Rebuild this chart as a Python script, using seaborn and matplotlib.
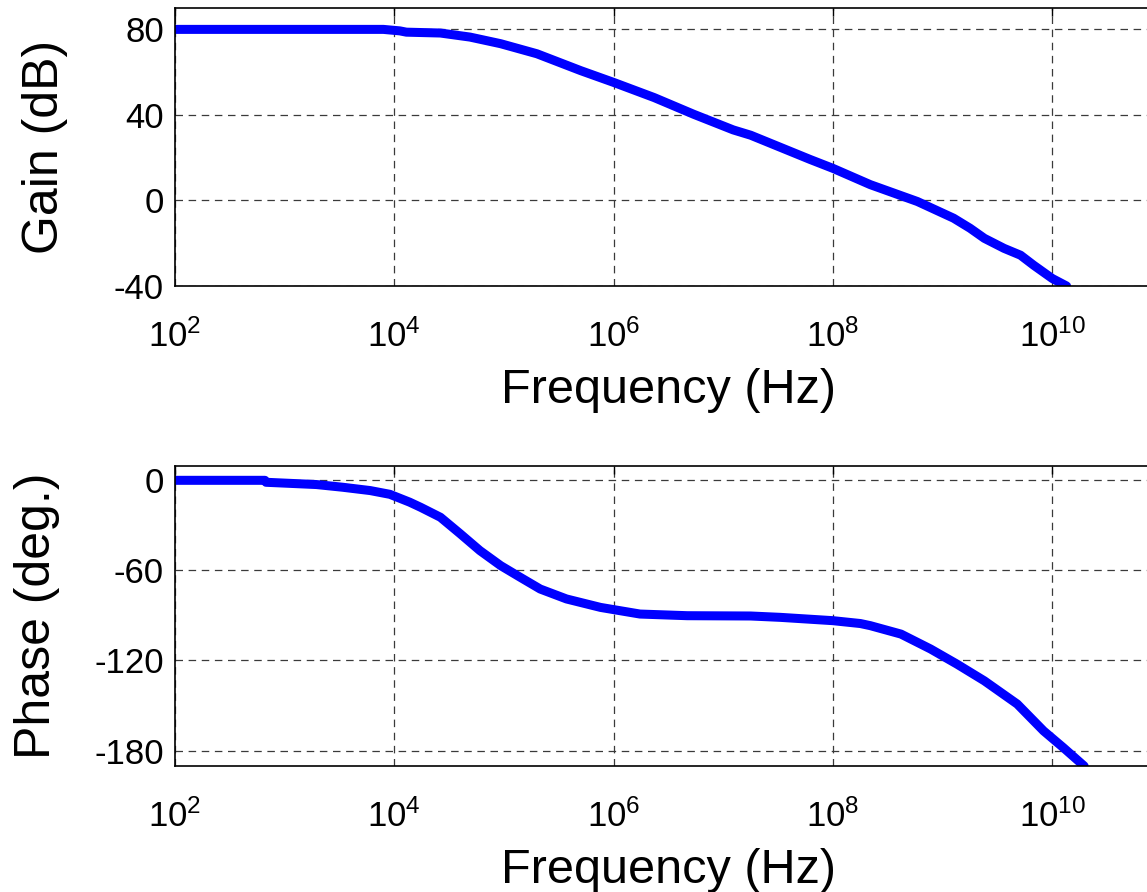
import numpy as np
import pandas as pd
import matplotlib
matplotlib.use('Agg')
import matplotlib.pyplot as plt
import seaborn as sns

# values (log10 of frequency in Hz)
log_f_gain = [2.0, 3.9, 4.05, 4.11, 4.42, 4.69, 4.97, 5.30, 5.70, 6.0, 6.37, 6.73,
              7.09, 7.25, 7.79, 8.0, 8.34, 8.77, 9.10, 9.25, 9.38, 9.56, 9.71, 9.83,
              10.0, 10.13]
gain_db = [80, 80, 79.3, 78.7, 78.3, 76.4, 73.3, 68.6, 60.7, 55.2, 48.1, 40.3,
           33.0, 30.5, 19.2, 15.0, 7.4, -0.5, -8.3, -13.0, -17.7, -22.4, -25.6, -30.3,
           -36.5, -40]

log_f_phase = [2.0, 2.82, 2.83, 3.29, 3.53, 3.78, 3.96, 4.14, 4.24, 4.42, 4.60, 4.78,
               4.97, 5.15, 5.33, 5.57, 5.88, 6.06, 6.24, 6.67, 7.25, 7.52, 8.0, 8.25,
               8.34, 8.62, 8.89, 9.13, 9.38, 9.68, 9.92, 10.10, 10.29]
phase_deg = [-0.5, -0.5, -1.8, -3.3, -5.1, -7.3, -9.8, -15, -18.4, -25, -35.9, -47.1,
             -57.1, -64.9, -72.6, -79.2, -84.8, -87, -89.2, -90.3, -90.5, -91.4, -93.6, -95.5,
             -96.9, -102.5, -112.4, -122.4, -133.5, -148.9, -166.7, -177.8, -190]

xtick_exp = [2, 4, 6, 8, 10]
gain_ticks = [-40, 0, 40, 80]
phase_ticks = [-180, -120, -60, 0]

df_gain = pd.DataFrame({'f': np.power(10.0, log_f_gain), 'gain': gain_db})
df_phase = pd.DataFrame({'f': np.power(10.0, log_f_phase), 'phase': phase_deg})

sns.set_style('white')
plt.rcParams['font.family'] = ['Liberation Sans', 'DejaVu Sans']
plt.rcParams['mathtext.fontset'] = 'custom'
plt.rcParams['mathtext.rm'] = 'Liberation Sans'
plt.rcParams['mathtext.it'] = 'Liberation Sans'
plt.rcParams['axes.unicode_minus'] = False
plt.rcParams['text.color'] = 'black'
plt.rcParams['axes.labelcolor'] = 'black'
plt.rcParams['xtick.color'] = 'black'
plt.rcParams['ytick.color'] = 'black'

W, H = 1147, 892
fig = plt.figure(figsize=(W / 100, H / 100), dpi=100)
ax1 = fig.add_axes([175 / W, (H - 286) / H, (1162 - 175) / W, (286 - 8) / H])
ax2 = fig.add_axes([175 / W, (H - 766) / H, (1162 - 175) / W, (766 - 466) / H])

sns.lineplot(data=df_gain, x='f', y='gain', ax=ax1, color='#0000ff', lw=6.5,
             estimator=None, sort=False)
sns.lineplot(data=df_phase, x='f', y='phase', ax=ax2, color='#0000ff', lw=6.5,
             estimator=None, sort=False)

for ax, yt, ylim, lab, lx in [(ax1, gain_ticks, (-40, 90), 'Gain (dB)', -0.108),
                              (ax2, phase_ticks, (-190, 9), 'Phase (deg.)', -0.117)]:
    ax.set_xscale('log')
    ax.set_xlim(1e2, 1e11)
    ax.set_ylim(*ylim)
    ax.set_xticks([10.0 ** e for e in xtick_exp])
    ax.set_xticklabels(['$10^{%d}$' % e for e in xtick_exp])
    ax.xaxis.set_minor_locator(matplotlib.ticker.NullLocator())
    ax.set_yticks(yt)
    ax.set_yticklabels([str(v) for v in yt])
    ax.tick_params(direction='in', length=6, width=1, color='black',
                   top=True, right=True, labelsize=25, pad=8)
    ax.tick_params(axis='x', pad=24)
    ax.grid(True, which='major', color='#3a3a3a', linestyle=(0, (6, 4.5)), lw=0.9)
    for s in ax.spines.values():
        s.set_color('black')
        s.set_linewidth(1.2)
    ax.set_xlabel('Frequency (Hz)', fontsize=35, labelpad=10)
    ax.set_ylabel(lab, fontsize=36)
    ax.yaxis.set_label_coords(lx, 0.5)

fig.savefig('out.png', dpi=100)
